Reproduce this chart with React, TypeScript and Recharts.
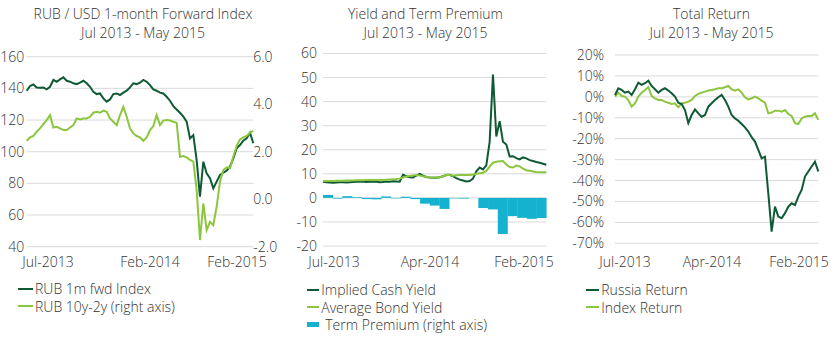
import React from 'react';
import { LineChart, ComposedChart, Line, Bar, XAxis, YAxis, CartesianGrid } from 'recharts';

// colours / fonts
const DARK = '#0e5a34';
const LIGHT = '#8cc63f';
const TEAL = '#14b2cf';
const GRID = '#dadada';
const TEXT = '#333333';
const FONT = '"Open Sans", Lato, sans-serif';
const WEIGHT = 300;

// ---- panel 1: RUB / USD 1-month forward index ----
const rubFwdIndex = [
  138.5, 141.5, 142.5, 140.6, 140.4, 140.6, 139.4, 141, 145.3, 144.2,
  145.7, 147, 144.8, 144.2, 143.2, 142.7, 143.6, 144.8, 143.2, 141,
  137.9, 136.4, 136.8, 133.7, 131.6, 133, 136.4, 136.8, 135.8, 137.3,
  138.5, 140.6, 143.2, 142.7, 143.6, 145.3, 144.2, 142.1, 139.4, 138.5,
  137.3, 136.8, 134.7, 132.2, 128.8, 126.7, 124.6, 122.1, 119, 108.4,
  110.5, 94.7, 71.6, 93.7, 86.3, 83.2, 76.8, 81.1, 85.3, 86.7,
  88, 90.5, 95.8, 102.1, 104.2, 107, 108.4, 112, 105.3,
];
const rub10y2y = [
  2.46, 2.6, 2.66, 2.84, 2.98, 3.16, 3.33, 3.54, 3.02, 3.05,
  2.98, 2.91, 2.91, 3.02, 3.12, 3.4, 3.36, 3.4, 3.4, 3.47,
  3.64, 3.68, 3.64, 3.73, 3.68, 3.4, 3.26, 3.12, 3.54, 3.89,
  3.47, 2.98, 2.77, 2.66, 2.6, 2.46, 2.6, 2.91, 3.08, 3.54,
  3.12, 3.31, 3.33, 3.31, 3.26, 3.22, 1.79, 1.82, 1.76, 1.65,
  1.58, 0.39, -1.72, -0.18, -1.3, -0.95, -1.09, -0.32, 0.74, 1.23,
  1.34, 1.3, 1.79, 2.24, 2.52, 2.6, 2.66, 2.8, 2.88,
];
const rubLeftTicks = [40, 60, 80, 100, 120, 140, 160];
const rubRightTicks = [-2, 0, 2, 4, 6];
const rubXTicks = [6.4, 37, 63.1];
const rubXLabels = ['Jul-2013', 'Feb-2014', 'Feb-2015'];

// ---- panel 2: yield and term premium ----
const cashYield = [
  6.7, 6.5, 6.4, 6.3, 6.4, 6.5, 6.5, 6.4, 6.5, 6.6,
  6.7, 6.7, 6.8, 6.6, 6.7, 6.8, 6.7, 6.5, 6.6, 6.8,
  6.7, 6.9, 6.8, 6.7, 9.6, 9.0, 8.6, 8.5, 9.2, 10.0,
  9.2, 8.7, 8.5, 8.4, 8.4, 8.6, 9.0, 9.5, 9.6, 9.0,
  8.2, 7.6, 7.2, 6.8, 7.0, 8.0, 11.0, 12.6, 11.8, 13.5,
  23.3, 51.3, 25.5, 31.9, 23.3, 22.2, 17.2, 17.3, 16.5, 16.0,
  16.8, 16.4, 15.7, 15.3, 14.9, 14.6, 14.2, 13.8,
];
const bondYield = [
  7.0, 7.0, 7.0, 7.0, 7.1, 7.1, 7.1, 7.2, 7.2, 7.2,
  7.3, 7.3, 7.3, 7.4, 7.4, 7.4, 7.4, 7.4, 7.4, 7.5,
  7.6, 7.7, 7.8, 8.0, 8.5, 8.9, 9.1, 9.3, 9.5, 9.3,
  9.0, 8.8, 8.6, 8.5, 8.5, 8.6, 9.0, 9.6, 9.5, 9.2,
  9.4, 9.5, 9.5, 9.5, 9.5, 9.7, 10.0, 10.2, 10.4, 11.2,
  13.0, 14.6, 15.0, 15.2, 15.3, 13.9, 12.8, 12.6, 13.4, 13.1,
  12.2, 11.5, 11.3, 11.0, 10.7, 10.6, 10.6, 10.7,
];
const premiumMonths = [
  'Jul-13', 'Aug-13', 'Sep-13', 'Oct-13', 'Nov-13', 'Dec-13',
  'Jan-14', 'Feb-14', 'Mar-14', 'Apr-14', 'May-14', 'Jun-14',
  'Jul-14', 'Aug-14', 'Sep-14', 'Oct-14', 'Nov-14', 'Dec-14',
  'Jan-15', 'Feb-15', 'Mar-15', 'Apr-15', 'May-15',
];
const termPremium = [
  1.2, -0.3, 0.7, 0.3, -0.5, -0.6, 0.6, -0.2, 0.5, -0.5, -2.4, -3.2,
  -4.6, -0.2, -0.3, 0, -4.2, -4.8, -15, -7.6, -8.3, -8.7, -8.4,
];
const yieldTicks = [-20, -10, 0, 10, 20, 30, 40, 50, 60];
const yieldXTicks = [3.3, 32.1, 60.3];
const yieldXLabels = ['Jul-2013', 'Apr-2014', 'Feb-2015'];

// ---- panel 3: total return ----
const russiaReturn = [
  0.9, 4.1, 3.3, 2.0, 2.5, 0.9, 3.6, 6.8, 5.7, 6.5,
  7.7, 5.2, 3.6, 2.0, 3.3, 4.1, 3.0, 1.7, 0.1, -2.8,
  -3.4, -6.3, -12.5, -8.7, -6.0, -7.9, -9.5, -8.7, -4.7, -3.1,
  -1.5, -0.2, 0.9, -1.5, -4.7, -8.7, -10.3, -11.4, -13.0, -14.6,
  -16.6, -19.3, -21.4, -25.4, -29.4, -28.6, -46.1, -64.4, -52.5, -57.2,
  -58.0, -55.6, -52.5, -50.9, -51.7, -47.7, -44.5, -38.1, -35.7, -33.3,
  -31.0, -35.7,
];
const indexReturn = [
  0.1, 2.0, 0.4, 0.1, -1.5, -4.7, -3.1, 0.1, 2.0, 3.3,
  4.6, 0.4, -0.7, -1.5, -1.5, -2.3, -2.8, -3.4, -3.1, -5.0,
  -3.1, -2.8, -2.3, -1.5, 0.4, 1.4, 2.0, 2.5, 3.0, 3.3,
  3.6, 4.1, 4.1, 4.6, 5.2, 3.6, 3.0, 3.6, 2.0, -0.2,
  -1.2, -0.7, 0.1, -0.7, -1.8, -2.8, -7.9, -7.5, -6.6, -6.6,
  -7.1, -6.3, -8.2, -9.1, -12.6, -13.0, -10.3, -9.5, -9.1, -9.1,
  -7.9, -11.0,
];
const returnTicks = [-70, -60, -50, -40, -30, -20, -10, 0, 10, 20];
const returnXTicks = [3, 29.1, 55.2];
const returnXLabels = ['Jul-2013', 'Apr-2014', 'Feb-2015'];

const tickStyle = { fill: TEXT, fontSize: 14, fontFamily: FONT, fontWeight: WEIGHT };

const rubData = rubFwdIndex.map((v, i) => ({ i, fwd: v, spread: rub10y2y[i] }));
const cashRows = cashYield.map((v, i) => ({ i, v }));
const bondRows = bondYield.map((v, i) => ({ i, v }));
const premiumRows = premiumMonths.map((m, k) => ({ month: m, premium: termPremium[k] }));
const returnData = russiaReturn.map((v, i) => ({ i, russia: v, index: indexReturn[i] }));

const label = (ticks: number[], labels: string[]) => (v: number) => labels[ticks.indexOf(v)] ?? '';

function Title({ cx, lines }: { cx: number; lines: string[] }) {
  return (
    <div style={{ position: 'absolute', left: cx - 150, top: 3.5, width: 300, textAlign: 'center', fontSize: 14, lineHeight: '19px', color: TEXT }}>
      {lines.map((l) => <div key={l}>{l}</div>)}
    </div>
  );
}

type LegendItem = { name: string; color: string; box?: boolean };

function Legend({ x, y, swatch, items }: { x: number; y: number; swatch: number; items: LegendItem[] }) {
  return (
    <div style={{ position: 'absolute', left: x, top: y }}>
      {items.map((it) => (
        <div key={it.name} style={{ display: 'flex', alignItems: 'center', height: 17.5, fontSize: 14, color: TEXT, whiteSpace: 'nowrap' }}>
          <span style={{ display: 'inline-block', width: swatch, height: it.box ? 5 : 2, background: it.color, marginRight: it.box ? 6 : 2 }} />
          {it.name}
        </div>
      ))}
    </div>
  );
}

export default function App() {
  return (
    <div style={{ position: 'absolute', left: 0, top: 0, width: 840, height: 346, background: '#fff', overflow: 'hidden', fontFamily: FONT, fontWeight: WEIGHT }}>
      <Title cx={143} lines={['RUB / USD 1-month Forward Index', 'Jul 2013 - May 2015']} />
      <Title cx={425.5} lines={['Yield and Term Premium', 'Jul 2013 - May 2015']} />
      <Title cx={711.5} lines={['Total Return', 'Jul 2013 - May 2015']} />

      <div style={{ position: 'absolute', left: 0, top: 0 }}>
        <LineChart width={280} height={280} data={rubData} margin={{ top: 56.7, right: 0, bottom: 0, left: 0 }}>
          <CartesianGrid yAxisId="l" vertical={false} stroke={GRID} />
          <XAxis dataKey="i" type="number" domain={[0, 68]} ticks={rubXTicks} interval={0}
            tickFormatter={label(rubXTicks, rubXLabels)} axisLine={false} tickLine={false}
            tickSize={0} tickMargin={10.8} height={33.3} tick={tickStyle} />
          <YAxis yAxisId="l" domain={[40, 160]} ticks={rubLeftTicks} interval={0} width={26.7}
            axisLine={false} tickLine={false} tickSize={0} tickMargin={2.5} tick={tickStyle} />
          <YAxis yAxisId="r" orientation="right" domain={[-2, 6]} ticks={rubRightTicks} interval={0} width={26.7}
            tickFormatter={(v: number) => v.toFixed(1)} axisLine={false} tickLine={false} tickSize={0} tickMargin={0} tick={tickStyle} />
          <Line yAxisId="l" dataKey="fwd" stroke={DARK} strokeWidth={2} dot={false} isAnimationActive={false} />
          <Line yAxisId="r" dataKey="spread" stroke={LIGHT} strokeWidth={2} dot={false} isAnimationActive={false} />
        </LineChart>
      </div>

      <div style={{ position: 'absolute', left: 280, top: 0 }}>
        <ComposedChart width={280} height={280} data={premiumRows} margin={{ top: 53.5, right: 13.7, bottom: 0, left: 0 }}
          barCategoryGap={0} barGap={0}>
          <CartesianGrid xAxisId="d" vertical={false} stroke={GRID} />
          <XAxis xAxisId="m" dataKey="month" type="category" hide />
          <XAxis xAxisId="d" dataKey="i" type="number" domain={[0, 67]} ticks={yieldXTicks} interval={0}
            tickFormatter={label(yieldXTicks, yieldXLabels)} axisLine={false} tickLine={false}
            tickSize={0} tickMargin={11.5} height={34} tick={tickStyle} />
          <YAxis domain={[-20, 60]} ticks={yieldTicks} interval={0} width={43}
            axisLine={false} tickLine={false} tickSize={0} tickMargin={6} tick={tickStyle} />
          <Bar xAxisId="m" dataKey="premium" fill={TEAL} isAnimationActive={false} />
          <Line xAxisId="d" data={cashRows} dataKey="v" stroke={DARK} strokeWidth={2} dot={false} isAnimationActive={false} />
          <Line xAxisId="d" data={bondRows} dataKey="v" stroke={LIGHT} strokeWidth={2} dot={false} isAnimationActive={false} />
        </ComposedChart>
      </div>

      <div style={{ position: 'absolute', left: 560, top: 0 }}>
        <LineChart width={280} height={280} data={returnData} margin={{ top: 55, right: 21.7, bottom: 0, left: 0 }}>
          <CartesianGrid vertical={false} stroke={GRID} />
          <XAxis dataKey="i" type="number" domain={[0, 61]} ticks={returnXTicks} interval={0}
            tickFormatter={label(returnXTicks, returnXLabels)} axisLine={false} tickLine={false}
            tickSize={0} tickMargin={14.2} height={36.7} tick={tickStyle} />
          <YAxis domain={[-70, 20]} ticks={returnTicks} interval={0} width={55}
            tickFormatter={(v: number) => `${v}%`} axisLine={false} tickLine={false} tickSize={0} tickMargin={11} tick={tickStyle} />
          <Line dataKey="index" stroke={LIGHT} strokeWidth={2} dot={false} isAnimationActive={false} />
          <Line dataKey="russia" stroke={DARK} strokeWidth={2} dot={false} isAnimationActive={false} />
        </LineChart>
      </div>

      <Legend x={18} y={280} swatch={15} items={[
        { name: 'RUB 1m fwd Index', color: DARK },
        { name: 'RUB 10y-2y (right axis)', color: LIGHT },
      ]} />
      <Legend x={306.7} y={281} swatch={12.6} items={[
        { name: 'Implied Cash Yield', color: DARK },
        { name: 'Average Bond Yield', color: LIGHT },
        { name: 'Term Premium (right axis)', color: TEAL, box: true },
      ]} />
      <Legend x={586} y={281} swatch={13.3} items={[
        { name: 'Russia Return', color: DARK },
        { name: 'Index Return', color: LIGHT },
      ]} />
    </div>
  );
}
